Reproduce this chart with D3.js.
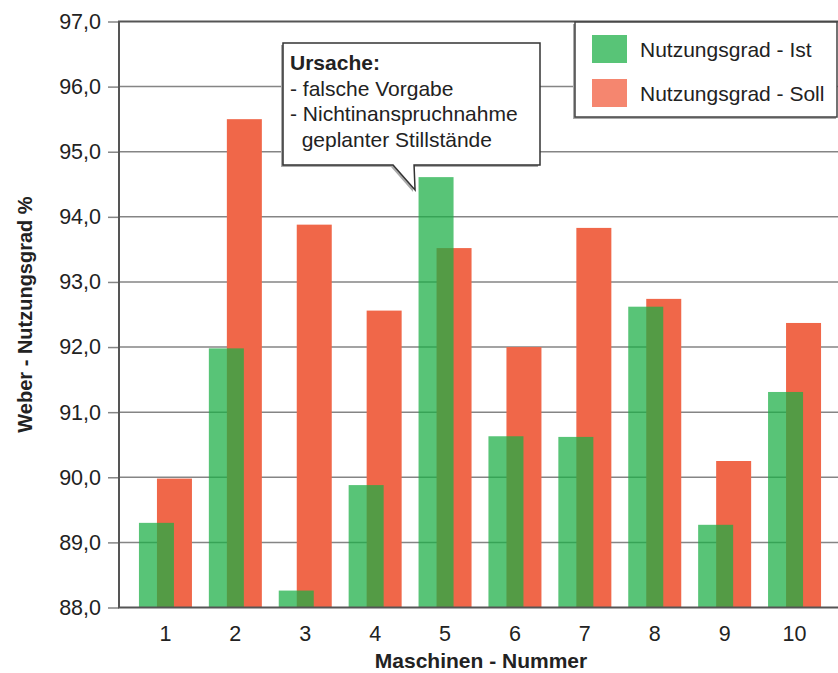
<!DOCTYPE html>
<html>
<head>
<meta charset="utf-8">
<script src="https://cdn.jsdelivr.net/npm/d3@7/dist/d3.min.js"></script>
<style>
  html, body { margin: 0; padding: 0; background: #fff; }
  svg text { font-family: "Liberation Sans", Arial, sans-serif; fill: #222; }
</style>
</head>
<body>
<svg id="chart" width="838" height="673"></svg>
<script>
// Machine numbers and utilisation values (%)
const machines = [1, 2, 3, 4, 5, 6, 7, 8, 9, 10];
const istValues = [89.30, 91.98, 88.26, 89.88, 94.61, 90.63, 90.62, 92.62, 89.27, 91.31];
const sollValues = [89.98, 95.50, 93.88, 92.56, 93.52, 92.00, 93.83, 92.74, 90.25, 92.37];
const yTicks = [88, 89, 90, 91, 92, 93, 94, 95, 96, 97];
const seriesNames = ["Nutzungsgrad - Ist", "Nutzungsgrad - Soll"];
const calloutLines = ["Ursache:", "- falsche Vorgabe", "- Nichtinanspruchnahme", "  geplanter Stillstände"];

const svg = d3.select("#chart");
const plotLeft = 119, plotRight = 838, plotTop = 21.5, plotBottom = 607.5;
const tickFont = 21.5, textFont = 21;

const x = d3.scaleBand().domain(machines).range([130.5, 829.5]).padding(0);
const y = d3.scaleLinear().domain([88, 97]).range([plotBottom, plotTop]);
const fmt = v => d3.format(".1f")(v).replace(".", ",");

const barW = 35;
const green = "#1aae44", greenOpacity = 0.73;
const red = "#f06749";

// horizontal grid lines
svg.append("g").selectAll("line")
  .data(yTicks.filter(t => t > 88 && t < 97))
  .join("line")
  .attr("x1", plotLeft).attr("x2", plotRight)
  .attr("y1", d => y(d)).attr("y2", d => y(d))
  .attr("stroke", "#858585").attr("stroke-width", 1.5);

// Soll bars (behind)
svg.append("g").selectAll("rect")
  .data(machines.map((m, i) => ({ m, v: sollValues[i] })))
  .join("rect")
  .attr("x", d => x(d.m) + x.bandwidth() / 2 - 8.5)
  .attr("y", d => y(d.v))
  .attr("width", barW)
  .attr("height", d => plotBottom - y(d.v))
  .attr("fill", red);

// Ist bars (translucent, in front)
svg.append("g").selectAll("rect")
  .data(machines.map((m, i) => ({ m, v: istValues[i] })))
  .join("rect")
  .attr("x", d => x(d.m) + x.bandwidth() / 2 - 26.5)
  .attr("y", d => y(d.v))
  .attr("width", barW)
  .attr("height", d => plotBottom - y(d.v))
  .attr("fill", green)
  .attr("fill-opacity", greenOpacity);

// y axis with ticks
const yAxis = svg.append("g")
  .attr("transform", `translate(${plotLeft},0)`)
  .call(d3.axisLeft(y).tickValues(yTicks).tickFormat(fmt).tickSize(11).tickPadding(7));
yAxis.select(".domain").remove();
yAxis.selectAll(".tick line").attr("stroke", "#858585").attr("stroke-width", 1.5);
yAxis.selectAll(".tick text")
  .attr("font-size", tickFont).attr("fill", "#222")
  .style("font-family", "'Liberation Sans', Arial, sans-serif");

// frame: left, top and bottom lines
svg.append("line").attr("x1", plotLeft).attr("x2", plotLeft).attr("y1", plotTop).attr("y2", plotBottom)
  .attr("stroke", "#555").attr("stroke-width", 2);
svg.append("line").attr("x1", plotLeft - 1).attr("x2", plotRight).attr("y1", plotTop).attr("y2", plotTop)
  .attr("stroke", "#555").attr("stroke-width", 2);
svg.append("line").attr("x1", plotLeft - 1).attr("x2", plotRight).attr("y1", plotBottom).attr("y2", plotBottom)
  .attr("stroke", "#555").attr("stroke-width", 2);

// x axis labels
const xAxis = svg.append("g")
  .attr("transform", `translate(0,${plotBottom})`)
  .call(d3.axisBottom(x).tickSize(0).tickPadding(18));
xAxis.select(".domain").remove();
xAxis.selectAll(".tick text")
  .attr("font-size", tickFont).attr("fill", "#222")
  .style("font-family", "'Liberation Sans', Arial, sans-serif");

// axis titles
svg.append("text")
  .attr("x", 481).attr("y", 668)
  .attr("text-anchor", "middle")
  .attr("font-size", 21).attr("font-weight", "bold")
  .text("Maschinen - Nummer");
svg.append("text")
  .attr("transform", `translate(32,${(plotTop + plotBottom) / 2}) rotate(-90)`)
  .attr("text-anchor", "middle")
  .attr("font-size", 20).attr("font-weight", "bold")
  .text("Weber - Nutzungsgrad %");

// legend box with drop shadow
const lg = svg.append("g");
lg.append("rect").attr("x", 573).attr("y", 24).attr("width", 263).attr("height", 95)
  .attr("fill", "#aaa");
lg.append("rect").attr("x", 575).attr("y", 22).attr("width", 262).attr("height", 95)
  .attr("fill", "#fff").attr("stroke", "#444").attr("stroke-width", 1.5);
const legendColors = [{ c: green, o: greenOpacity }, { c: "#f5866f", o: 1 }];
seriesNames.forEach((name, i) => {
  const cy = 49 + i * 44;
  lg.append("rect").attr("x", 592).attr("y", cy - 14).attr("width", 35).attr("height", 28)
    .attr("fill", legendColors[i].c).attr("fill-opacity", legendColors[i].o);
  lg.append("text").attr("x", 640).attr("y", cy + 7.5)
    .attr("font-size", textFont).text(name);
});

// callout bubble pointing at machine 5
const cx0 = 283, cy0 = 43, cx1 = 540, cy1 = 165;
const tip = [x(5) + x.bandwidth() / 2 - 30, 190];
const bubble = `M${cx0},${cy0} H${cx1} V${cy1} H${tip[0] - 1} L${tip[0]},${tip[1]} L${tip[0] - 22},${cy1} H${cx0} Z`;
const cg = svg.append("g");
cg.append("path").attr("d", bubble).attr("transform", "translate(-2,2)")
  .attr("fill", "#aaa");
cg.append("path").attr("d", bubble)
  .attr("fill", "#fff").attr("stroke", "#333").attr("stroke-width", 1.5)
  .attr("stroke-linejoin", "miter");
calloutLines.forEach((t, i) => {
  cg.append("text")
    .attr("x", 290).attr("y", 70 + i * 25.7)
    .attr("font-size", textFont)
    .attr("font-weight", i === 0 ? "bold" : "normal")
    .attr("xml:space", "preserve")
    .style("white-space", "pre")
    .text(t);
});
</script>
</body>
</html>
